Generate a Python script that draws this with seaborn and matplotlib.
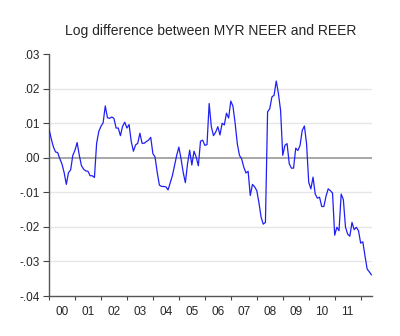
import numpy as np
import pandas as pd
import matplotlib
matplotlib.use("Agg")
import matplotlib.pyplot as plt
import seaborn as sns

# Monthly log difference, 2000M1 - 2012M6
log_diff = [
    0.0083, 0.0056, 0.0032, 0.0017, 0.0015, -0.0003, -0.0018, -0.0043, -0.0077, -0.0043, -0.0035, 0.0007,
    0.0022, 0.0044, 0.0007, -0.0023, -0.0033, -0.0038, -0.0039, -0.0052, -0.0052, -0.0057, 0.0042, 0.0076,
    0.0091, 0.0101, 0.0150, 0.0116, 0.0114, 0.0118, 0.0114, 0.0086, 0.0086, 0.0064, 0.0091, 0.0103,
    0.0086, 0.0096, 0.0047, 0.0019, 0.0037, 0.0042, 0.0071, 0.0042, 0.0042, 0.0047, 0.0051, 0.0059,
    0.0012, 0.0002, -0.0042, -0.0079, -0.0083, -0.0083, -0.0084, -0.0093, -0.0072, -0.0052, -0.0023, 0.0007,
    0.0031, -0.0003, -0.0042, -0.0072, -0.0018, 0.0022, -0.0021, 0.0019, 0.0002, -0.0023, 0.0048, 0.0051,
    0.0036, 0.0038, 0.0157, 0.0090, 0.0064, 0.0074, 0.0090, 0.0066, 0.0100, 0.0095, 0.0129, 0.0115,
    0.0164, 0.0149, 0.0100, 0.0041, 0.0007, -0.0003, -0.0027, -0.0044, -0.0039, -0.0109, -0.0077, -0.0084,
    -0.0095, -0.0130, -0.0172, -0.0192, -0.0187, 0.0133, 0.0142, 0.0176, 0.0181, 0.0222, 0.0186, 0.0137,
    0.0007, 0.0036, 0.0041, -0.0017, -0.0030, -0.0030, 0.0028, 0.0021, 0.0036, 0.0079, 0.0092, 0.0041,
    -0.0071, -0.0090, -0.0056, -0.0105, -0.0117, -0.0114, -0.0141, -0.0141, -0.0111, -0.0090, -0.0095, -0.0102,
    -0.0224, -0.0201, -0.0211, -0.0105, -0.0121, -0.0201, -0.0221, -0.0227, -0.0187, -0.0208, -0.0201, -0.0211,
    -0.0247, -0.0243, -0.0284, -0.0322, -0.0330, -0.0339,
]
start_year = 2000
year_labels = ["00", "01", "02", "03", "04", "05", "06", "07", "08", "09", "10", "11"]
y_ticks = [-0.04, -0.03, -0.02, -0.01, 0.00, 0.01, 0.02, 0.03]
y_tick_labels = ["-.04", "-.03", "-.02", "-.01", ".00", ".01", ".02", ".03"]

df = pd.DataFrame({
    "t": start_year + np.arange(len(log_diff)) / 12.0,
    "v": log_diff,
})

sns.set_style("white")
plt.rcParams["font.family"] = ["Liberation Sans", "DejaVu Sans"]

fig = plt.figure(figsize=(4.0, 3.36), dpi=100)
ax = fig.add_axes([0.1225, 0.119, 0.8075, 0.72])

# horizontal grid lines (interior levels only) and the zero line
for yv in y_ticks[1:-1]:
    if yv == 0:
        ax.axhline(yv, color="#9a9a9a", lw=1.2, zorder=1)
    else:
        ax.axhline(yv, color="#e6e6e6", lw=1.0, zorder=0)

sns.lineplot(data=df, x="t", y="v", ax=ax, color="#2020f5", lw=0.9, zorder=3)

ax.set_xlim(start_year, df["t"].iloc[-1] + 0.02)
ax.set_ylim(-0.04, 0.03)

ax.set_yticks(y_ticks)
ax.set_yticklabels(y_tick_labels)

years = np.arange(start_year, start_year + len(year_labels) + 1)
ax.set_xticks(years)
ax.set_xticklabels([""] * len(years))
ax.set_xticks(years[:-1] + 0.5, minor=True)
ax.set_xticklabels(year_labels, minor=True)

ax.tick_params(axis="y", which="major", direction="out", length=4, width=0.8,
               color="#444444", labelsize=8.5, pad=2.5, left=True)
ax.tick_params(axis="x", which="major", direction="out", length=3, width=0.8,
               color="#444444", bottom=True)
ax.tick_params(axis="x", which="minor", length=0, labelsize=8.5, pad=7)

for side in ["top", "right"]:
    ax.spines[side].set_visible(False)
for side in ["left", "bottom"]:
    ax.spines[side].set_color("#555555")
    ax.spines[side].set_linewidth(1.0)

ax.set_xlabel("")
ax.set_ylabel("")
ax.set_title("Log difference between MYR NEER and REER", fontsize=10, pad=14)

fig.savefig("out.png", dpi=100)
